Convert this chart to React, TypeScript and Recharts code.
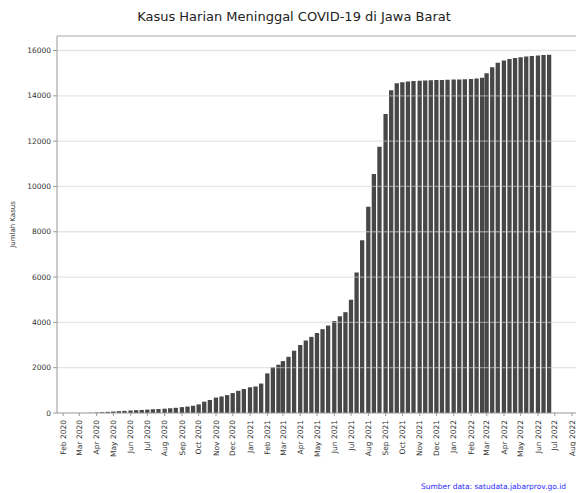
import { BarChart, Bar, XAxis, YAxis, ReferenceLine } from "recharts"

// tanggal sampel (tiap ~10 hari) dan jumlah kumulatif meninggal
const dates = [
  "2020-03-21",
  "2020-04-01", "2020-04-11", "2020-04-21", "2020-05-01", "2020-05-11", "2020-05-21",
  "2020-06-01", "2020-06-11", "2020-06-21", "2020-07-01", "2020-07-11", "2020-07-21",
  "2020-08-01", "2020-08-11", "2020-08-21", "2020-09-01", "2020-09-11", "2020-09-21",
  "2020-10-01", "2020-10-11", "2020-10-21", "2020-11-01", "2020-11-11", "2020-11-21",
  "2020-12-01", "2020-12-11", "2020-12-21", "2021-01-01", "2021-01-11", "2021-01-21",
  "2021-02-01", "2021-02-11", "2021-02-21", "2021-03-01", "2021-03-11", "2021-03-21",
  "2021-04-01", "2021-04-11", "2021-04-21", "2021-05-01", "2021-05-11", "2021-05-21",
  "2021-06-01", "2021-06-11", "2021-06-21", "2021-07-01", "2021-07-11", "2021-07-21",
  "2021-08-01", "2021-08-11", "2021-08-21", "2021-09-01", "2021-09-11", "2021-09-21",
  "2021-10-01", "2021-10-11", "2021-10-21", "2021-11-01", "2021-11-11", "2021-11-21",
  "2021-12-01", "2021-12-11", "2021-12-21", "2022-01-01", "2022-01-11", "2022-01-21",
  "2022-02-01", "2022-02-11", "2022-02-21", "2022-03-01", "2022-03-11", "2022-03-21",
  "2022-04-01", "2022-04-11", "2022-04-21", "2022-05-01", "2022-05-11", "2022-05-21",
  "2022-06-01", "2022-06-11", "2022-06-21",
]

const deaths = [
  8,
  20, 35, 50, 65, 80, 95,
  110, 125, 135, 150, 165, 175,
  190, 210, 230, 260, 285, 320,
  380, 500, 575, 680, 730, 790,
  880, 980, 1060, 1135, 1170, 1300,
  1750, 2020, 2130, 2290, 2480, 2750,
  3000, 3200, 3360, 3530, 3700, 3860,
  4060, 4270, 4450, 5000, 6200, 7620,
  9100, 10550, 11750, 13200, 14250, 14560,
  14600, 14630, 14650, 14665, 14680, 14690,
  14695, 14700, 14710, 14715, 14725, 14735,
  14745, 14760, 14800, 15000, 15260, 15460,
  15560, 15625, 15670, 15705, 15730, 15755,
  15780, 15800, 15815,
]

const monthNames = ["Jan", "Feb", "Mar", "Apr", "May", "Jun", "Jul", "Aug", "Sep", "Oct", "Nov", "Dec"]

const tickLabels = [
  "Feb 2020", "Mar 2020", "Apr 2020", "May 2020", "Jun 2020", "Jul 2020", "Aug 2020",
  "Sep 2020", "Oct 2020", "Nov 2020", "Dec 2020", "Jan 2021", "Feb 2021", "Mar 2021",
  "Apr 2021", "May 2021", "Jun 2021", "Jul 2021", "Aug 2021", "Sep 2021", "Oct 2021",
  "Nov 2021", "Dec 2021", "Jan 2022", "Feb 2022", "Mar 2022", "Apr 2022", "May 2022",
  "Jun 2022", "Jul 2022", "Aug 2022",
]

const yTicks = [0, 2000, 4000, 6000, 8000, 10000, 12000, 14000, 16000]

const DAY = 86400000
const ORIGIN = Date.UTC(2020, 0, 1)

// hari sejak 1 Jan 2020
function dayNum(s: string) {
  const [y, m, d] = s.split("-").map(Number)
  return (Date.UTC(y, m - 1, d) - ORIGIN) / DAY
}

function labelDay(label: string) {
  const [mon, yr] = label.split(" ")
  return (Date.UTC(Number(yr), monthNames.indexOf(mon), 1) - ORIGIN) / DAY
}

const chartData = dates.map((d, i) => ({ t: dayNum(d), v: deaths[i] }))
const xTicks = tickLabels.map(labelDay)
const labelByDay: Record<number, string> = {}
tickLabels.forEach((l, i) => { labelByDay[xTicks[i]] = l })

const FONT = "'DejaVu Sans', sans-serif"

function MonthTick(props: any) {
  const { x, y, payload } = props
  return (
    <g transform={`translate(${x},${y + 2})`}>
      <text
        transform="rotate(-90)"
        textAnchor="end"
        dy="0.35em"
        fontSize={7.5}
        fontFamily={FONT}
        fill="#333"
      >
        {labelByDay[payload.value]}
      </text>
    </g>
  )
}

export default function App() {
  return (
    <div style={{ position: "absolute", left: 0, top: 0, width: 576, height: 493, overflow: "hidden", background: "#fff" }}>
      <div
        style={{
          position: "absolute", left: 0, top: 9, width: 588, textAlign: "center",
          fontFamily: FONT, fontSize: 13, lineHeight: "16px", color: "#222",
        }}
      >
        Kasus Harian Meninggal COVID-19 di Jawa Barat
      </div>
      <BarChart
        width={600}
        height={493}
        data={chartData}
        margin={{ top: 36, right: 19, bottom: 20, left: 0 }}
      >
        <XAxis
          type="number"
          dataKey="t"
          domain={[dayNum("2020-01-21"), dayNum("2022-08-17")]}
          allowDataOverflow
          ticks={xTicks}
          interval={0}
          height={60}
          tickSize={3}
          stroke="#999"
          tick={<MonthTick />}
        />
        <YAxis
          type="number"
          domain={[0, 16640]}
          allowDataOverflow
          ticks={yTicks}
          width={57}
          tickSize={4}
          stroke="#999"
          tick={{ fontSize: 7.5, fontFamily: FONT, fill: "#333" }}
          label={{
            value: "Jumlah Kasus", angle: -90, position: "insideLeft", offset: 13,
            style: { fontSize: 7, fontFamily: FONT, fill: "#333", textAnchor: "middle" },
          }}
        />
        <Bar dataKey="v" fill="#474747" barSize={4.3} isAnimationActive={false} />
        {yTicks.slice(1).map((v) => (
          <ReferenceLine key={v} y={v} stroke="#cfcfcf" strokeOpacity={0.55} strokeWidth={1.3} />
        ))}
        <ReferenceLine y={16640} stroke="#aaa" strokeWidth={1.2} />
      </BarChart>
      <div
        style={{
          position: "absolute", left: 421, top: 482, whiteSpace: "nowrap",
          fontFamily: FONT, fontSize: 7.5, color: "#2a2aff",
        }}
      >
        Sumber data: satudata.jabarprov.go.id
      </div>
    </div>
  )
}
